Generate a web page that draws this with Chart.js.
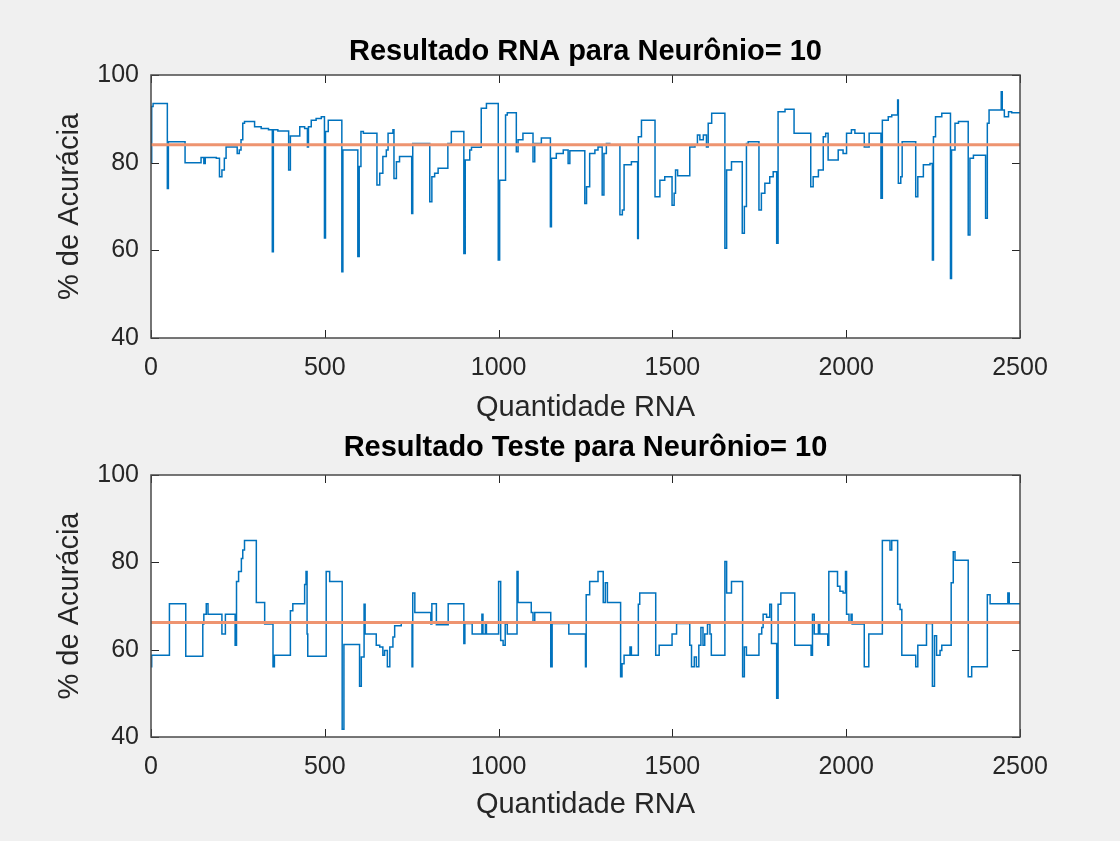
<!DOCTYPE html>
<html>
<head>
<meta charset="utf-8">
<script src="https://cdn.jsdelivr.net/npm/chart.js@4.4.0/dist/chart.umd.min.js"></script>
<style>
  html, body { margin: 0; padding: 0; background: #f0f0f0; }
  body { width: 1120px; height: 841px; position: relative; overflow: hidden; }
  canvas { position: absolute; left: 0; }
  #rna-chart { top: 0; }
  #teste-chart { top: 420px; }
</style>
</head>
<body>
<canvas id="rna-chart" width="1120" height="440"></canvas>
<canvas id="teste-chart" width="1120" height="421"></canvas>
<script>
// valores (x = quantidade RNA, y = % de acuracia)
const rnaX = [0, 2, 6, 47, 50, 98, 144, 152, 156, 188, 197, 204, 211, 216, 248, 254, 259, 264, 269, 298,
  317, 338, 349, 352, 365, 396, 401, 428, 442, 450, 453, 461, 475, 490, 499, 502, 510, 549, 552, 595,
  599, 604, 611, 650, 658, 667, 677, 682, 696, 699, 706, 715, 750, 753, 802, 808, 816, 826, 854, 864,
  900, 904, 917, 922, 950, 965, 999, 1003, 1020, 1025, 1051, 1056, 1070, 1099, 1104, 1123, 1149, 1152, 1166, 1186,
  1200, 1205, 1248, 1253, 1262, 1277, 1286, 1298, 1303, 1310, 1320, 1349, 1356, 1361, 1382, 1400, 1402, 1411, 1450, 1464,
  1478, 1499, 1505, 1509, 1515, 1550, 1565, 1572, 1579, 1589, 1598, 1603, 1613, 1651, 1656, 1670, 1701, 1707, 1713, 1718,
  1749, 1756, 1766, 1780, 1790, 1800, 1804, 1824, 1850, 1898, 1905, 1920, 1934, 1941, 1948, 1977, 1991, 2001, 2015, 2025,
  2052, 2066, 2100, 2104, 2121, 2131, 2148, 2150, 2157, 2161, 2200, 2206, 2222, 2241, 2248, 2251, 2257, 2275, 2300, 2303,
  2313, 2323, 2351, 2356, 2366, 2401, 2406, 2411, 2446, 2449, 2455, 2467, 2476, 2500];
const rnaY = [80, 92.8, 93.5, 74.1, 84.8, 80, 81.2, 79.8, 81.2, 81, 76.8, 78.3, 81, 83.6, 82.1, 82.9, 85.2, 89, 89.4, 88.2,
  87.8, 87.5, 59.7, 87.5, 87.2, 78.3, 86.1, 88.2, 87.8, 83.6, 88.2, 89.7, 90.1, 90.5, 62.8, 87.1, 89.7, 55.1, 82.9, 58.6,
  79.1, 87.1, 86.7, 74.9, 77.6, 81.4, 82.9, 86.7, 87.5, 76.4, 80.2, 81.4, 68.4, 84.4, 71.1, 76.8, 77.6, 78.7, 84.4, 87.1,
  59.3, 80.6, 82.9, 83.5, 92.4, 93.5, 57.8, 76, 90.9, 91.4, 82.5, 85.2, 86.7, 80.2, 84.4, 85.6, 65.4, 81, 82.1, 82.9,
  79.8, 82.7, 70.7, 74.5, 82.1, 82.9, 83.6, 72.6, 82.1, 84.4, 84, 68.1, 69.2, 79.5, 80.2, 62.7, 85.9, 89.7, 72.2, 76,
  76.8, 70.3, 73, 78.3, 77, 83.6, 84, 86.3, 85.2, 86.3, 83.6, 89, 91.3, 60.5, 78.3, 80.2, 63.9, 70, 84.4, 84.8,
  69.2, 73, 75.3, 76.8, 77.9, 61.6, 91.6, 92.2, 86.7, 74.5, 76.8, 78.3, 85.9, 86.7, 80.6, 82.9, 82.1, 86.7, 87.5, 86.7,
  83.6, 86.7, 71.9, 89.7, 90.5, 90.9, 94.3, 75.3, 76.8, 84.8, 72.2, 76.8, 79.5, 79.8, 57.8, 85.9, 90.5, 91.3, 53.6, 82.9,
  89, 89.4, 63.5, 81, 81.7, 67.3, 89, 92, 96.2, 92, 90.5, 91.6, 91.4, 91.4];
const rnaMean = 84.1;

const testeX = [0, 2, 53, 100, 149, 152, 159, 164, 204, 214, 242, 246, 252, 260, 264, 269, 303, 327, 351, 355,
  401, 408, 442, 446, 449, 451, 504, 514, 550, 555, 600, 605, 613, 616, 648, 658, 667, 672, 680, 687,
  696, 701, 720, 751, 753, 759, 805, 808, 821, 855, 900, 903, 924, 952, 955, 962, 965, 1000, 1006, 1013,
  1019, 1025, 1053, 1056, 1094, 1099, 1104, 1150, 1154, 1202, 1250, 1252, 1262, 1286, 1301, 1307, 1313, 1351, 1355, 1361,
  1378, 1382, 1402, 1406, 1452, 1462, 1499, 1512, 1550, 1555, 1563, 1569, 1576, 1582, 1588, 1593, 1601, 1608, 1612, 1651,
  1656, 1670, 1702, 1707, 1713, 1749, 1757, 1761, 1771, 1780, 1785, 1800, 1804, 1812, 1852, 1899, 1903, 1908, 1920, 1924,
  1947, 1950, 1975, 1982, 1991, 1998, 2001, 2008, 2014, 2017, 2052, 2065, 2104, 2126, 2131, 2148, 2155, 2160, 2200, 2206,
  2231, 2248, 2254, 2260, 2270, 2275, 2302, 2308, 2313, 2351, 2361, 2406, 2414, 2465, 2469, 2500];
const testeY = [56.1, 58.7, 70.5, 58.5, 65.9, 68.1, 70.5, 68.1, 63.6, 68.1, 61, 75.6, 77.9, 80.9, 82.8, 85, 70.8, 65.9, 56.1, 58.7,
  68.9, 70.5, 74.9, 77.9, 63.6, 58.5, 77.9, 75.6, 41.8, 61.2, 51.6, 58.3, 70.4, 63.6, 61, 60.6, 58.7, 59.8, 56.1, 60.6,
  62.9, 65.5, 66.2, 56.1, 73, 68.5, 65.9, 70.5, 65.7, 70.5, 61.4, 66, 63.6, 68.1, 63.6, 65.9, 63.6, 75.6, 62.1, 61,
  65.9, 63.6, 77.9, 70.8, 68.5, 66.2, 68.5, 56.1, 66, 63.6, 56.1, 72.6, 75.6, 77.9, 70.8, 75.3, 70.8, 53.8, 56.8, 58.7,
  60.6, 58.7, 70.4, 73, 58.7, 61, 63.6, 66, 61, 56.1, 58.3, 56.1, 61, 65.1, 61, 63.6, 65.9, 63.6, 58.7, 80.2,
  73, 75.6, 53.8, 60.6, 58.7, 63.6, 65.1, 68.1, 67.4, 70.4, 61.4, 48.9, 70.4, 73, 61, 58.7, 68.1, 63.6, 65.9, 63.6,
  61, 77.9, 74.5, 73.4, 73, 77.9, 68.1, 66.2, 68.1, 65.9, 56.1, 63.6, 85, 82.8, 85, 70.4, 69.2, 58.7, 56.1, 61,
  66, 51.6, 63.2, 58.7, 59.8, 61, 75.3, 82.4, 80.5, 53.8, 56.1, 72.6, 70.5, 73, 70.5, 70.5];
const testeMean = 66.2;

const xTicks = [0, 500, 1000, 1500, 2000, 2500];
const yTicks = [40, 60, 80, 100];

const fontFamily = "'Liberation Sans', Arial, Helvetica, sans-serif";
const axisColor = "#262626";

// caixa branca, borda e tracinhos internos como no MATLAB
const matlabBox = {
  id: "matlabBox",
  beforeDraw(chart) {
    const { ctx, chartArea: a } = chart;
    ctx.save();
    ctx.fillStyle = "#ffffff";
    ctx.fillRect(a.left, a.top, a.right - a.left, a.bottom - a.top);
    ctx.restore();
  },
  afterDraw(chart) {
    const { ctx, chartArea: a, scales } = chart;
    const len = 8;
    ctx.save();
    ctx.strokeStyle = axisColor;
    ctx.lineWidth = 1;
    ctx.beginPath();
    for (const t of scales.x.ticks) {
      const px = Math.round(scales.x.getPixelForValue(t.value)) + 0.5;
      ctx.moveTo(px, a.bottom);
      ctx.lineTo(px, a.bottom - len);
      ctx.moveTo(px, a.top);
      ctx.lineTo(px, a.top + len);
    }
    for (const t of scales.y.ticks) {
      const py = Math.round(scales.y.getPixelForValue(t.value)) + 0.5;
      ctx.moveTo(a.left, py);
      ctx.lineTo(a.left + len, py);
      ctx.moveTo(a.right, py);
      ctx.lineTo(a.right - len, py);
    }
    ctx.stroke();
    ctx.lineWidth = 1.5;
    ctx.strokeStyle = "#4a4a4a";
    ctx.strokeRect(a.left, a.top, a.right - a.left, a.bottom - a.top);
    ctx.restore();
  },
};

function makePoints(xs, ys) {
  return xs.map((x, i) => ({ x: x, y: ys[i] }));
}

function renderChart(canvasId, title, xs, ys, mean, layout) {
  const canvas = document.getElementById(canvasId);
  return new Chart(canvas, {
    type: "line",
    data: {
      datasets: [
        {
          data: [{ x: xTicks[0], y: mean }, { x: xTicks[xTicks.length - 1], y: mean }],
          borderColor: "#EE9470",
          borderWidth: 3,
          pointRadius: 0,
          fill: false,
        },
        {
          data: makePoints(xs, ys),
          borderColor: "#0072BD",
          borderWidth: 1.5,
          pointRadius: 0,
          stepped: "before",
          fill: false,
        },
      ],
    },
    options: {
      responsive: false,
      animation: false,
      events: [],
      layout: { padding: { left: 0, right: 100, top: 0, bottom: 0 } },
      plugins: {
        legend: { display: false },
        tooltip: { enabled: false },
        title: {
          display: true,
          text: title,
          fullSize: false,
          color: "#000000",
          font: { family: fontFamily, size: 29, weight: "bold", lineHeight: 1 },
          padding: { top: layout.titleTop, bottom: layout.titleBottom },
        },
      },
      scales: {
        x: {
          type: "linear",
          min: xTicks[0],
          max: xTicks[xTicks.length - 1],
          afterBuildTicks: (scale) => {
            scale.ticks = xTicks.map((v) => ({ value: v }));
          },
          grid: { display: false, drawTicks: false },
          border: { display: false },
          ticks: {
            color: axisColor,
            font: { family: fontFamily, size: 25 },
            padding: 15,
            maxRotation: 0,
            autoSkip: false,
            callback: (value) => String(value),
          },
          title: {
            display: true,
            text: "Quantidade RNA",
            color: axisColor,
            font: { family: fontFamily, size: 29 },
            padding: { top: 0, bottom: layout.xTitleBottom },
          },
          afterFit: (scale) => {
            scale.height = layout.xHeight;
          },
        },
        y: {
          min: yTicks[0],
          max: yTicks[yTicks.length - 1],
          afterBuildTicks: (scale) => {
            scale.ticks = yTicks.map((v) => ({ value: v }));
          },
          grid: { display: false, drawTicks: false },
          border: { display: false },
          ticks: {
            color: axisColor,
            font: { family: fontFamily, size: 25 },
            padding: 12,
            callback: (value) => String(value),
          },
          title: {
            display: true,
            text: "% de Acurácia",
            color: axisColor,
            font: { family: fontFamily, size: 29 },
            padding: { top: 53, bottom: 0 },
          },
          afterFit: (scale) => {
            scale.width = 151;
          },
        },
      },
    },
    plugins: [matlabBox],
  });
}

renderChart("rna-chart", "Resultado RNA para Neurônio= 10", rnaX, rnaY, rnaMean,
  { titleTop: 37.5, titleBottom: 8.5, xHeight: 102, xTitleBottom: 15 });
renderChart("teste-chart", "Resultado Teste para Neurônio= 10", testeX, testeY, testeMean,
  { titleTop: 13.5, titleBottom: 12.5, xHeight: 104, xTitleBottom: 19 });
</script>
</body>
</html>
